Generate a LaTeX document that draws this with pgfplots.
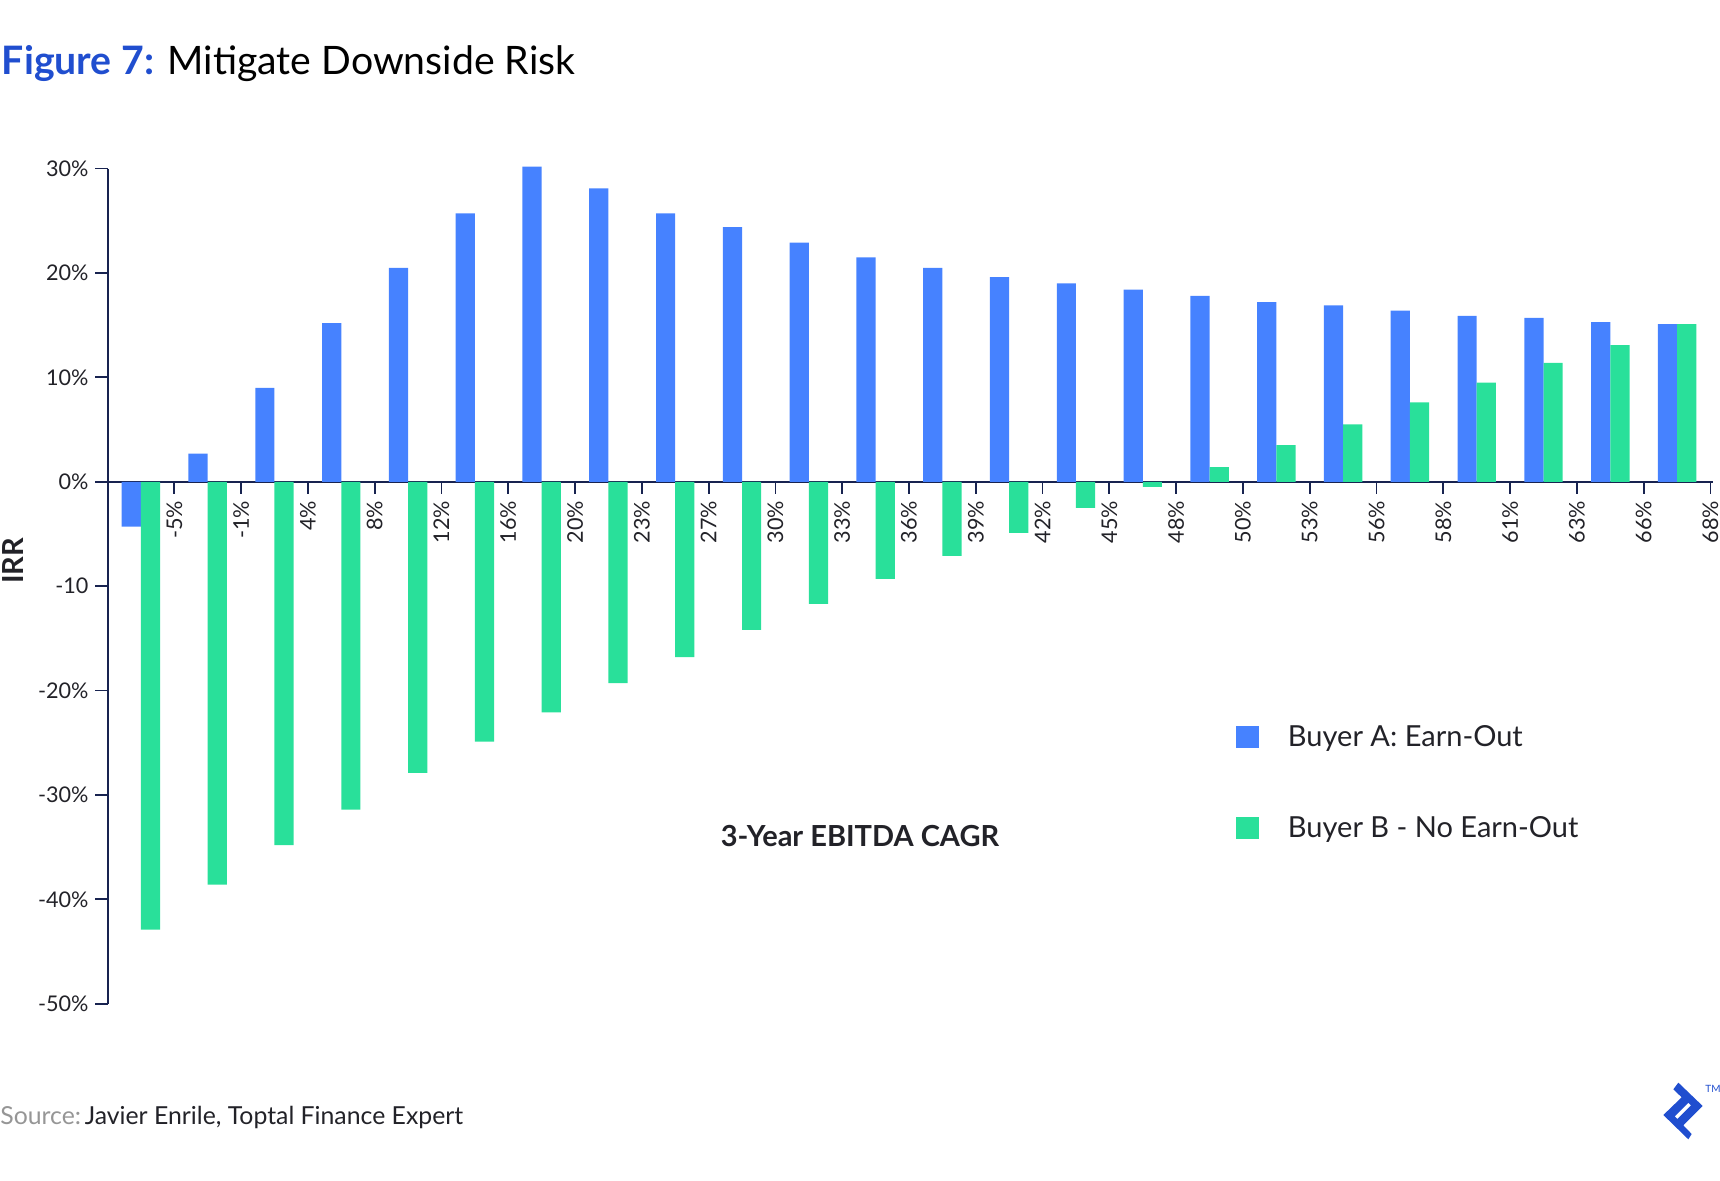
\documentclass[border=0pt]{standalone}
\usepackage{pgfplots}
\usepackage{pgfplotstable}
\pgfplotsset{compat=1.18}
\usepackage{fontspec}
\setmainfont{Lato}
\definecolor{barblue}{RGB}{70,130,255}
\definecolor{bargreen}{RGB}{41,224,154}
\definecolor{titleblue}{RGB}{32,78,207}
\definecolor{axisnavy}{RGB}{24,35,80}
\definecolor{txt}{RGB}{34,34,40}
\definecolor{srcgray}{RGB}{150,150,150}

\pgfplotstableread{
x A B
0 -4.3 -42.9
1 2.7 -38.6
2 9.0 -34.8
3 15.2 -31.4
4 20.5 -27.9
5 25.7 -24.9
6 30.2 -22.1
7 28.1 -19.3
8 25.7 -16.8
9 24.4 -14.2
10 22.9 -11.7
11 21.5 -9.3
12 20.5 -7.1
13 19.6 -4.9
14 19.0 -2.5
15 18.4 -0.5
16 17.8 1.4
17 17.2 3.5
18 16.9 5.5
19 16.4 7.6
20 15.9 9.5
21 15.7 11.4
22 15.3 13.1
23 15.1 15.1
}\irrdata

\begin{document}
\begin{tikzpicture}
\useasboundingbox (0,0) rectangle (860pt,590.5pt);
\begin{axis}[
  at={(53.75pt,88.65pt)}, anchor=south west,
  scale only axis, width=802.5pt, height=417.55pt,
  xmin=-0.5, xmax=23.53, ymin=-50, ymax=30,
  clip=false,
  axis x line=middle, axis y line=left,
  hide obscured x ticks=false, hide obscured y ticks=false,
  axis line style={-, draw=axisnavy, line width=1pt},
  ybar, bar width=9.6pt,
  xtick={0.5,1.5,...,23.5},
  xticklabels={-5\%,-1\%,4\%,8\%,12\%,16\%,20\%,23\%,27\%,30\%,33\%,36\%,39\%,42\%,45\%,48\%,50\%,53\%,56\%,58\%,61\%,63\%,66\%,68\%},
  ytick={-50,-40,...,30},
  yticklabels={-50\%,-40\%,-30\%,-20\%,-10,0\%,10\%,20\%,30\%},
  tick align=outside,
  major tick length=6pt,
  tick style={draw=axisnavy, line width=0.9pt},
  xticklabel style={rotate=90, anchor=east, font=\fontsize{10.8}{12}\selectfont, text=txt},
  yticklabel style={font=\fontsize{10.8}{12}\selectfont, text=txt},
  legend style={at={(0.7031,0.3340)}, anchor=north west, draw=none, fill=none,
    inner sep=0pt, outer sep=0pt, row sep=34pt,
    nodes={inner sep=0pt, text height=11pt, text depth=0pt},
    font=\fontsize{14.5}{16}\selectfont, text=txt,
    /tikz/every odd column/.append style={column sep=14.5pt}},
  legend cell align=left,
  legend image code/.code={\fill[#1,draw=none] (0pt,-6pt) rectangle (11.5pt,5pt);},
]
\addplot[fill=barblue, draw=none, bar shift=-4.8pt] table[x=x, y=A] {\irrdata};
\addlegendentry{Buyer A: Earn-Out}
\addplot[fill=bargreen, draw=none, bar shift=4.8pt] table[x=x, y=B] {\irrdata};
\addlegendentry{Buyer B - No Earn-Out}
\end{axis}

% title
\node[anchor=base west, inner sep=0pt, font=\fontsize{19.6}{23}\selectfont] at (0.8pt,553.2pt)
  {\textcolor{titleblue}{\textbf{Figure 7:}} Mitigate Downside Risk};
% y label
\node[rotate=90, anchor=base, inner sep=0pt, font=\bfseries\fontsize{14.5}{16}\selectfont, text=txt] at (12pt,310pt) {IRR};
% x label
\node[anchor=base, inner sep=0pt, font=\bfseries\fontsize{14.5}{16}\selectfont, text=txt] at (430pt,167pt) {3-Year EBITDA CAGR};
% source
\node[anchor=base west, inner sep=0pt, font=\fontsize{12.4}{14}\selectfont, text=txt] at (0pt,28.3pt)
  {\textcolor{srcgray}{Source:}\hspace{0.15em}Javier Enrile, Toptal Finance Expert};
% logo
\fill[titleblue, even odd rule]
  (839.17pt,49.17pt) -- (851.33pt,37.5pt) -- (841.67pt,27.83pt) -- (845.83pt,23.5pt) --
  (844.17pt,20.83pt) -- (831.67pt,33pt) -- (840.83pt,41.83pt) -- (836.67pt,45.83pt) -- cycle
  (844.17pt,39.17pt) -- (845.5pt,37.83pt) -- (838.67pt,31pt) -- (837.33pt,32.33pt) -- cycle;
\node[anchor=base west, inner sep=0pt, font=\fontsize{5}{6}\selectfont, text=titleblue] at (852.5pt,44pt) {TM};
\end{tikzpicture}
\end{document}
